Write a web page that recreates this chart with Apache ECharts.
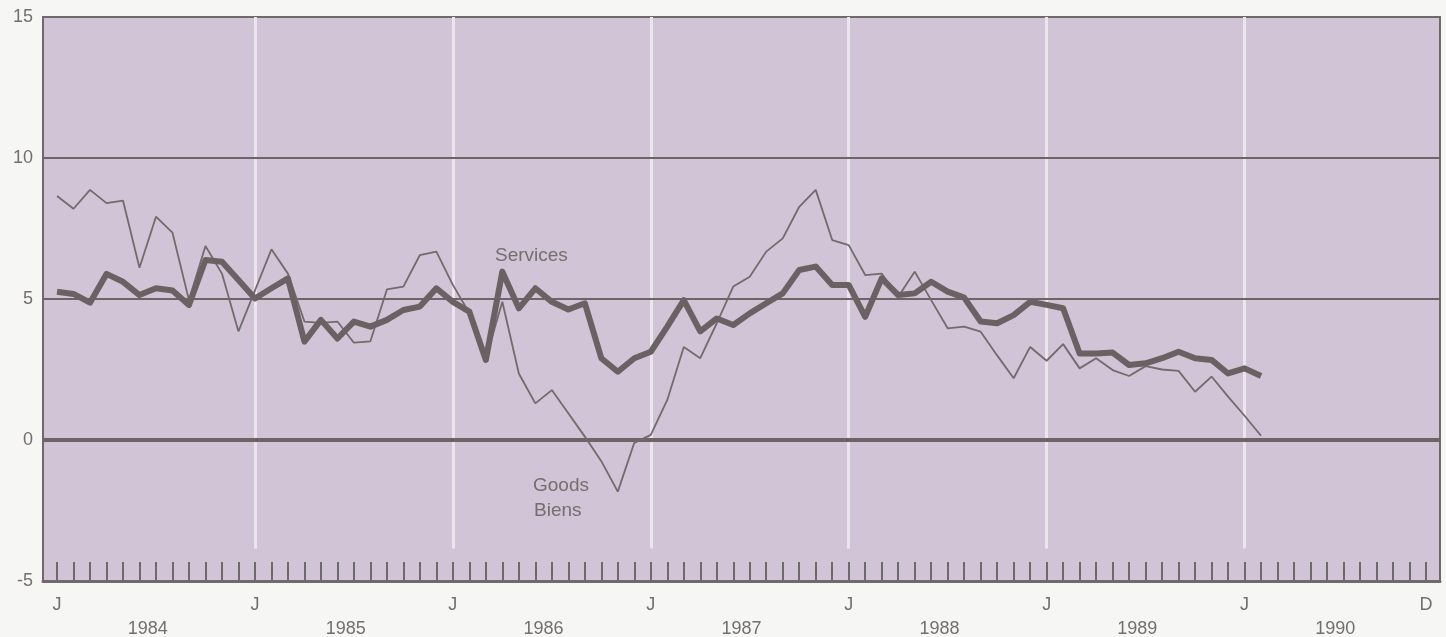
<!DOCTYPE html>
<html>
<head>
<meta charset="utf-8">
<script src="https://cdn.jsdelivr.net/npm/echarts@6/dist/echarts.min.js"></script>
<style>
html,body{margin:0;padding:0;background:#f6f6f4;}
#chart{width:1446px;height:637px;}
</style>
</head>
<body>
<div id="chart"></div>
<script>
// Monthly values, Jan 1984 .. Feb 1990 (month index 0 = Jan 1984)
var goods = [
  8.65, 8.2, 8.87, 8.4, 8.49, 6.11, 7.92, 7.35, 4.96, 6.88, 5.9, 3.85,
  5.3, 6.76, 5.9, 4.2, 4.15, 4.2, 3.45, 3.5, 5.34, 5.44, 6.56, 6.68,
  5.5, 4.5, 2.9, 4.9, 2.36, 1.3, 1.77, 0.95, 0.12, -0.75, -1.83, -0.1,
  0.18, 1.42, 3.3, 2.9, 4.14, 5.44, 5.79, 6.68, 7.15, 8.27, 8.87, 7.09,
  6.91, 5.85, 5.9, 5.08, 5.97, 4.96, 3.96, 4.02, 3.84, 3.0, 2.19, 3.3,
  2.81, 3.4, 2.54, 2.9, 2.48, 2.27, 2.62, 2.5, 2.45, 1.71, 2.25, 1.54,
  0.86, 0.15
];
var services = [
  5.26, 5.18, 4.87, 5.89, 5.61, 5.14, 5.38, 5.3, 4.79, 6.38, 6.32, 5.67,
  5.02, 5.38, 5.73, 3.49, 4.26, 3.6, 4.2, 4.02, 4.26, 4.61, 4.73, 5.38,
  4.9, 4.55, 2.84, 5.97, 4.67, 5.38, 4.9, 4.63, 4.85, 2.9, 2.42, 2.9,
  3.13, 4.02, 4.96, 3.85, 4.31, 4.08, 4.49, 4.85, 5.2, 6.03, 6.15, 5.5,
  5.5, 4.37, 5.73, 5.14, 5.2, 5.61, 5.26, 5.05, 4.2, 4.14, 4.43, 4.9,
  4.79, 4.67, 3.07, 3.07, 3.1, 2.66, 2.72, 2.9, 3.13, 2.9, 2.84, 2.36,
  2.54, 2.27
];
var years = ['1984', '1985', '1986', '1987', '1988', '1989', '1990'];
var monthTicks = [];           // every month Jan 1984 .. Dec 1990
for (var m = 0; m < 84; m++) monthTicks.push(m);
var monthLabelValues = [0, 12, 24, 36, 48, 60, 72, 83];
var monthLabelText = ['J', 'J', 'J', 'J', 'J', 'J', 'J', 'D'];
var yearLabelValues = [5.5, 17.5, 29.5, 41.5, 53.5, 65.5, 77.5];
var januaries = [12, 24, 36, 48, 60, 72];
var hLines = [10, 5, 0];

var chart = echarts.init(document.getElementById('chart'));
var textColor = '#736f6e';
var lineDark = '#6c6466';
var font = 'Liberation Sans, Arial, sans-serif';

var whiteLines = januaries.map(function (j) {
  return [{ coord: [j, 15] }, { coord: [j, -3.85] }];
});
var gridLines = hLines.map(function (v) {
  return { yAxis: v, lineStyle: { color: lineDark, width: v === 0 ? 4 : 2, type: 'solid' } };
});

var option = {
  animation: false,
  backgroundColor: '#f6f6f4',
  grid: {
    left: 43, right: 6, top: 17, bottom: 56,
    outerBoundsMode: 'none', containLabel: false,
    show: true, backgroundColor: '#d0c4d6', borderColor: '#6f6a6a', borderWidth: 2
  },
  xAxis: [{
    type: 'value', min: -0.85, max: 83.85,
    axisLine: { show: true, onZero: false, lineStyle: { color: '#6f6a6a', width: 3 } },
    axisTick: { show: true, inside: true, length: 19, customValues: monthTicks,
      lineStyle: { color: '#6f6a6a', width: 2 } },
    axisLabel: { show: true, customValues: monthLabelValues, margin: 15,
      color: textColor, fontSize: 18, fontFamily: font,
      formatter: function (v) { return monthLabelText[monthLabelValues.indexOf(Math.round(v))] || ''; } },
    splitLine: { show: false }
  }, {
    type: 'value', min: -0.85, max: 83.85, position: 'bottom', gridIndex: 0,
    axisLine: { show: false }, axisTick: { show: false }, splitLine: { show: false },
    axisLabel: { show: true, customValues: yearLabelValues, margin: 39,
      color: textColor, fontSize: 18, fontFamily: font,
      formatter: function (v) { return years[Math.round((v - 5.5) / 12)]; } }
  }],
  yAxis: {
    type: 'value', min: -5, max: 15, interval: 5,
    axisLine: { show: false }, axisTick: { show: false }, splitLine: { show: false },
    axisLabel: { color: textColor, fontSize: 18, margin: 10, fontFamily: font }
  },
  series: [{
    name: 'Reference lines', type: 'line', data: [], silent: true, z: 1, zlevel: 0,
    markLine: {
      silent: true, symbol: 'none', label: { show: false }, z: 1,
      lineStyle: { color: '#ebe5ee', width: 3, type: 'solid' },
      data: whiteLines
    }
  }, {
    name: 'Grid lines', type: 'line', data: [], silent: true, z: 2,
    markLine: {
      silent: true, symbol: 'none', label: { show: false }, z: 2,
      data: gridLines
    }
  }, {
    name: 'Goods', type: 'line', showSymbol: false,
    data: goods.map(function (v, i) { return [i, v]; }),
    lineStyle: { color: '#736a6c', width: 1.8 }, z: 6
  }, {
    name: 'Services', type: 'line', showSymbol: false,
    data: services.map(function (v, i) { return [i, v]; }),
    lineStyle: { color: '#6a6163', width: 6, join: 'round' }, z: 7
  }],
  graphic: [
    { type: 'text', left: 495, top: 246, z: 10, style: { text: 'Services', fill: textColor, fontSize: 19, fontFamily: font } },
    { type: 'text', left: 533, top: 476, z: 10, style: { text: 'Goods', fill: textColor, fontSize: 19, fontFamily: font } },
    { type: 'text', left: 534, top: 501, z: 10, style: { text: 'Biens', fill: textColor, fontSize: 19, fontFamily: font } }
  ]
};
chart.setOption(option);
</script>
</body>
</html>
